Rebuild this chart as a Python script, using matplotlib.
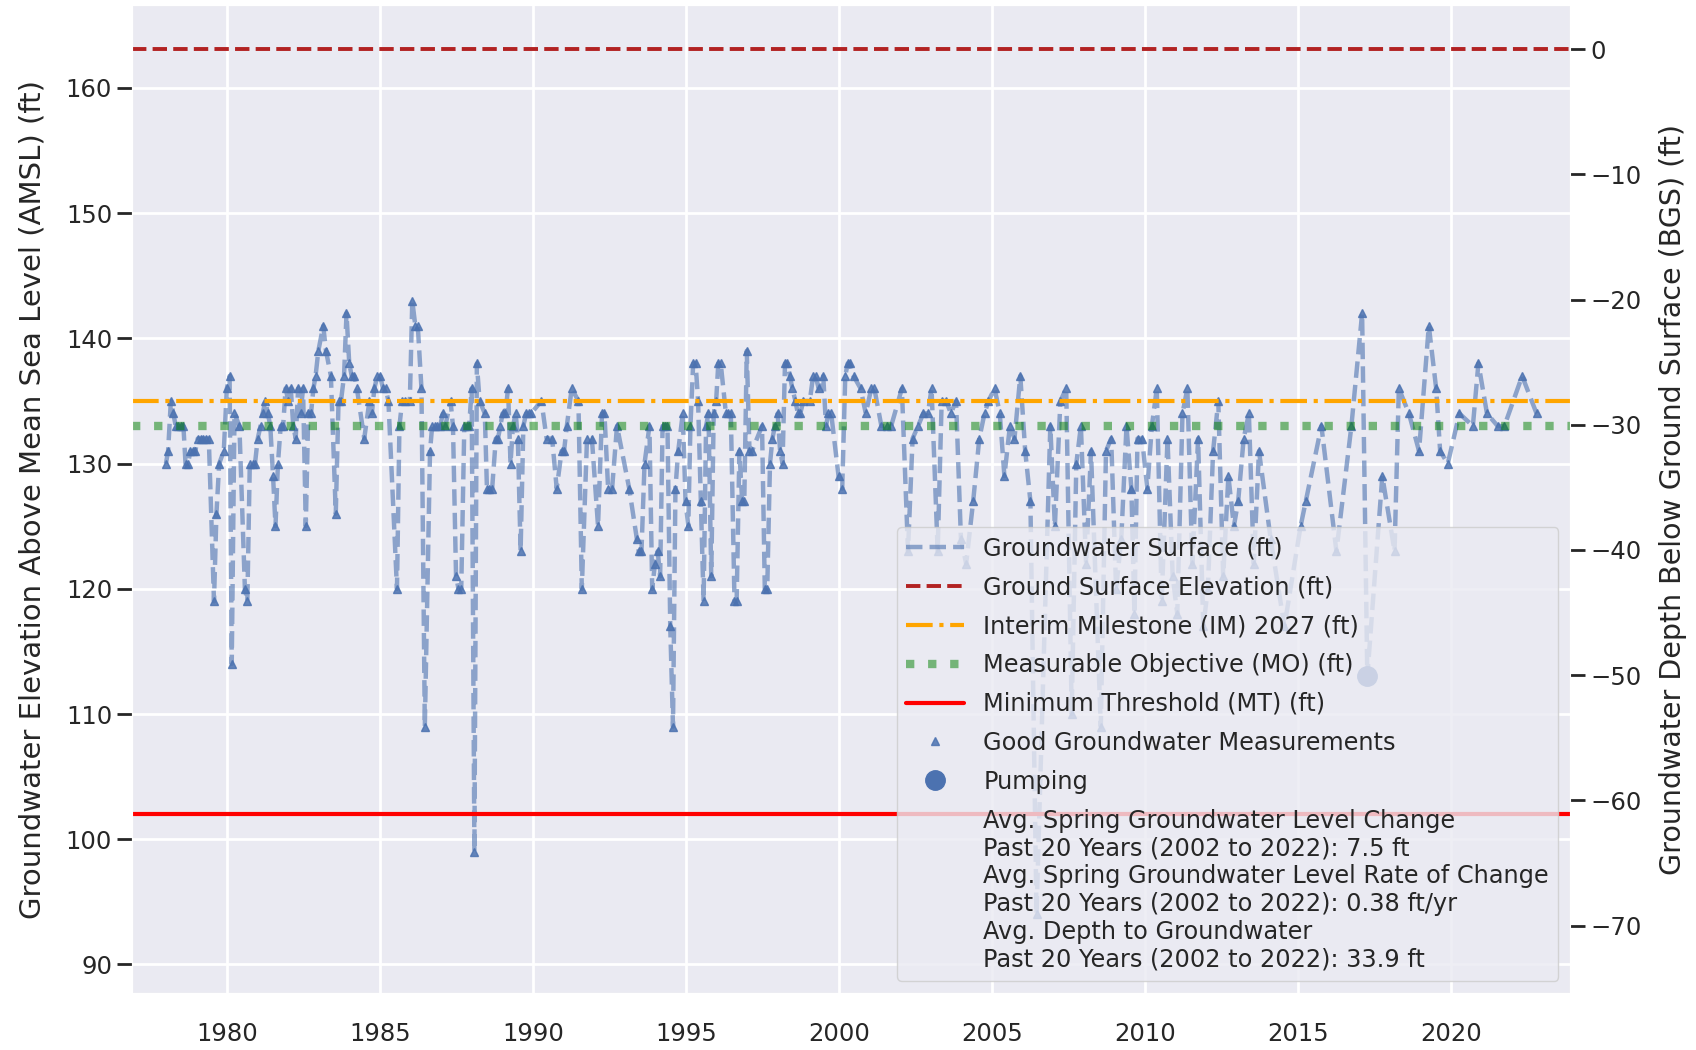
"""
Groundwater hydrograph with sustainability thresholds.
Left axis: elevation above mean sea level, right axis: depth below ground surface.
"""
import matplotlib
matplotlib.use("Agg")
import matplotlib.pyplot as plt
import seaborn as sns
from matplotlib.lines import Line2D

# measurement dates (decimal years) and groundwater elevations (ft AMSL)
years = [
    1978.00, 1978.07, 1978.16, 1978.24, 1978.32, 1978.41, 1978.49, 1978.57, 1978.64, 1978.72,
    1978.80, 1978.88, 1978.96, 1979.04, 1979.13, 1979.22, 1979.32, 1979.40, 1979.57, 1979.65,
    1979.74, 1979.89, 1979.99, 1980.08, 1980.15, 1980.24, 1980.40, 1980.58, 1980.66, 1980.74,
    1980.83, 1980.91, 1981.00, 1981.09, 1981.16, 1981.25, 1981.33, 1981.41, 1981.50, 1981.58,
    1981.66, 1981.75, 1981.83, 1981.91, 1982.00, 1982.08, 1982.16, 1982.24, 1982.32, 1982.40,
    1982.48, 1982.57, 1982.65, 1982.74, 1982.82, 1982.89, 1982.98, 1983.14, 1983.23, 1983.39,
    1983.55, 1983.64, 1983.72, 1983.82, 1983.90, 1983.99, 1984.07, 1984.16, 1984.24, 1984.48,
    1984.65, 1984.73, 1984.81, 1984.91, 1985.00, 1985.09, 1985.18, 1985.27, 1985.55, 1985.63,
    1985.72, 1985.80, 1985.97, 1986.05, 1986.15, 1986.23, 1986.35, 1986.46, 1986.63, 1986.70,
    1986.78, 1986.87, 1986.96, 1987.05, 1987.13, 1987.30, 1987.38, 1987.48, 1987.56, 1987.65,
    1987.75, 1987.84, 1987.91, 1987.99, 1988.08, 1988.16, 1988.25, 1988.42, 1988.49, 1988.57,
    1988.66, 1988.78, 1988.85, 1988.93, 1989.00, 1989.09, 1989.18, 1989.26, 1989.34, 1989.43,
    1989.50, 1989.59, 1989.68, 1989.77, 1989.85, 1989.93, 1990.27, 1990.44, 1990.62, 1990.77,
    1990.93, 1991.01, 1991.10, 1991.26, 1991.48, 1991.59, 1991.76, 1991.92, 1992.12, 1992.25,
    1992.33, 1992.45, 1992.58, 1992.74, 1993.14, 1993.39, 1993.45, 1993.54, 1993.64, 1993.80,
    1993.89, 1993.98, 1994.07, 1994.15, 1994.23, 1994.31, 1994.39, 1994.48, 1994.57, 1994.65,
    1994.74, 1994.89, 1994.98, 1995.07, 1995.14, 1995.23, 1995.31, 1995.39, 1995.48, 1995.57,
    1995.65, 1995.73, 1995.82, 1995.90, 1995.98, 1996.05, 1996.13, 1996.30, 1996.38, 1996.46,
    1996.58, 1996.65, 1996.74, 1996.83, 1996.90, 1996.98, 1997.07, 1997.15, 1997.48, 1997.57,
    1997.65, 1997.74, 1997.82, 1997.90, 1997.99, 1998.07, 1998.15, 1998.23, 1998.31, 1998.39,
    1998.47, 1998.57, 1998.65, 1998.73, 1998.83, 1999.04, 1999.15, 1999.23, 1999.33, 1999.48,
    1999.57, 1999.65, 1999.74, 1999.98, 2000.10, 2000.20, 2000.28, 2000.35, 2000.47, 2000.70,
    2000.87, 2001.05, 2001.15, 2001.38, 2001.55, 2001.70, 2002.05, 2002.25, 2002.40, 2002.58,
    2002.75, 2002.90, 2003.02, 2003.22, 2003.35, 2003.50, 2003.65, 2003.82, 2003.98, 2004.15,
    2004.38, 2004.58, 2004.75, 2004.88, 2005.08, 2005.25, 2005.40, 2005.58, 2005.73, 2005.92,
    2006.08, 2006.25, 2006.45, 2006.90, 2007.05, 2007.23, 2007.42, 2007.60, 2007.75, 2007.90,
    2008.07, 2008.23, 2008.55, 2008.72, 2008.89, 2009.05, 2009.22, 2009.39, 2009.55, 2009.65,
    2009.75, 2009.90, 2010.07, 2010.22, 2010.38, 2010.54, 2010.73, 2010.90, 2011.05, 2011.22,
    2011.38, 2011.54, 2011.73, 2011.90, 2012.05, 2012.22, 2012.39, 2012.55, 2012.72, 2012.90,
    2013.04, 2013.22, 2013.39, 2013.55, 2013.72, 2014.10, 2014.55, 2015.08, 2015.25, 2015.76,
    2016.25, 2016.74, 2017.09, 2017.26, 2017.75, 2018.15, 2018.29, 2018.62, 2018.95, 2019.27,
    2019.51, 2019.64, 2019.89, 2020.27, 2020.71, 2020.89, 2021.17, 2021.52, 2021.74, 2022.32,
    2022.79,
]
levels = [
    130, 131, 135, 134, 133, 133, 133, 133, 130, 130,
    131, 131, 131, 132, 132, 132, 132, 132, 119, 126,
    130, 131, 136, 137, 114, 134, 133, 120, 119, 130,
    130, 130, 132, 133, 134, 135, 134, 133, 129, 125,
    130, 133, 133, 136, 135, 136, 133, 132, 136, 134,
    136, 125, 134, 134, 136, 137, 139, 141, 139, 137,
    126, 135, 135, 137, 142, 138, 137, 137, 136, 132,
    135, 134, 136, 137, 137, 136, 136, 135, 120, 133,
    135, 135, 135, 143, 141, 141, 136, 109, 131, 133,
    133, 133, 133, 134, 133, 135, 133, 121, 120, 120,
    133, 133, 133, 136, 99, 138, 135, 134, 128, 128,
    128, 132, 132, 133, 134, 134, 136, 130, 133, 134,
    132, 123, 133, 134, 134, 134, 135, 132, 132, 128,
    131, 131, 133, 136, 135, 120, 132, 132, 125, 134,
    134, 128, 128, 133, 128, 124, 123, 123, 130, 133,
    120, 122, 123, 121, 133, 133, 133, 117, 109, 128,
    131, 134, 127, 125, 133, 138, 138, 135, 127, 119,
    133, 134, 121, 134, 135, 138, 138, 134, 134, 134,
    119, 119, 131, 127, 127, 139, 131, 131, 133, 120,
    120, 130, 132, 133, 134, 131, 130, 138, 138, 137,
    136, 135, 134, 134, 135, 135, 137, 137, 136, 137,
    133, 134, 134, 129, 128, 137, 138, 138, 137, 136,
    134, 136, 136, 133, 133, 133, 136, 123, 132, 133,
    134, 134, 136, 123, 135, 135, 134, 135, 124, 122,
    127, 132, 134, 135, 136, 134, 129, 133, 132, 137,
    131, 127, 94, 133, 125, 135, 136, 110, 130, 133,
    122, 131, 109, 131, 132, 120, 124, 133, 128, 118,
    132, 132, 128, 133, 136, 119, 132, 121, 118, 134,
    136, 122, 132, 117, 120, 131, 135, 121, 129, 125,
    127, 132, 134, 122, 131, 124, 117, 125, 127, 133,
    123, 133, 142, 113, 129, 123, 136, 134, 131, 141,
    136, 131, 130, 134, 133, 138, 134, 133, 133, 137,
    134,
]

# readings taken while the well was pumping
pumping_years = [2017.26]
pumping_levels = [113]

# reference elevations (ft AMSL)
ground_surface = 163.1
interim_milestone = 135
measurable_objective = 133
minimum_threshold = 102

stats_text = (
    "Avg. Spring Groundwater Level Change\n"
    "Past 20 Years (2002 to 2022): 7.5 ft\n"
    "Avg. Spring Groundwater Level Rate of Change\n"
    "Past 20 Years (2002 to 2022): 0.38 ft/yr\n"
    "Avg. Depth to Groundwater\n"
    "Past 20 Years (2002 to 2022): 33.9 ft"
)

BLUE = "#4C72B0"

sns.set_style("darkgrid")
plt.rcParams["font.family"] = ["DejaVu Sans"]
plt.rcParams["grid.linewidth"] = 2.0

fig, ax = plt.subplots(figsize=(16.96, 10.5), dpi=100)
fig.subplots_adjust(left=0.078, right=0.926, top=0.995, bottom=0.054)

good_x = [x for x in years if x not in pumping_years]
good_y = [v for x, v in zip(years, levels) if x not in pumping_years]

gw_line, = ax.plot(years, levels, ls="--", lw=3.2, color=BLUE, alpha=0.6, zorder=2)
good_pts, = ax.plot(good_x, good_y, ls="none", marker="^", ms=6, color=BLUE,
                    alpha=0.85, zorder=3)
pump_pts, = ax.plot(pumping_years, pumping_levels, ls="none", marker="o", ms=14,
                    color=BLUE, zorder=3)

gse = ax.axhline(ground_surface, color="#B22222", ls="--", lw=2.8, zorder=4)
im = ax.axhline(interim_milestone, color="orange", ls="-.", lw=3.0, zorder=4)
mo = ax.axhline(measurable_objective, color="green", alpha=0.5, ls=":", lw=6.0, zorder=4)
mt = ax.axhline(minimum_threshold, color="red", lw=3.0, zorder=4)

ax.set_xlim(1976.9, 2023.9)
ax.set_ylim(87.7, 166.6)
ax.set_xticks(range(1980, 2021, 5))
ax.set_yticks(range(90, 161, 10))
ax.tick_params(axis="x", labelsize=17.5, bottom=False, pad=17)
ax.tick_params(axis="y", labelsize=17.5, left=True, length=11, width=2, color="0.15")
ax.set_ylabel("Groundwater Elevation Above Mean Sea Level (AMSL) (ft)", fontsize=21,
              labelpad=14)

# depth below ground surface on the right
ax2 = ax.twinx()
ax2.grid(False)
ax2.set_ylim(87.7 - ground_surface, 166.6 - ground_surface)
ax2.set_yticks(range(-70, 1, 10))
ax2.tick_params(axis="y", labelsize=17.5, right=True, length=11, width=2, color="0.15")
ax2.set_ylabel("Groundwater Depth Below Ground Surface (BGS) (ft)", fontsize=20.5,
               labelpad=12)

blank = Line2D([], [], ls="none")
handles = [gw_line, gse, im, mo, mt, good_pts, pump_pts, blank]
labels = [
    "Groundwater Surface (ft)",
    "Ground Surface Elevation (ft)",
    "Interim Milestone (IM) 2027 (ft)",
    "Measurable Objective (MO) (ft)",
    "Minimum Threshold (MT) (ft)",
    "Good Groundwater Measurements",
    "Pumping",
    stats_text,
]
ax2.legend(handles, labels, loc="lower right", fontsize=17.3, handlelength=2.4,
           labelspacing=0.62, framealpha=0.8, facecolor="#EAEAF2", edgecolor="0.8")

plt.savefig("out.png", dpi=100)
plt.close()
